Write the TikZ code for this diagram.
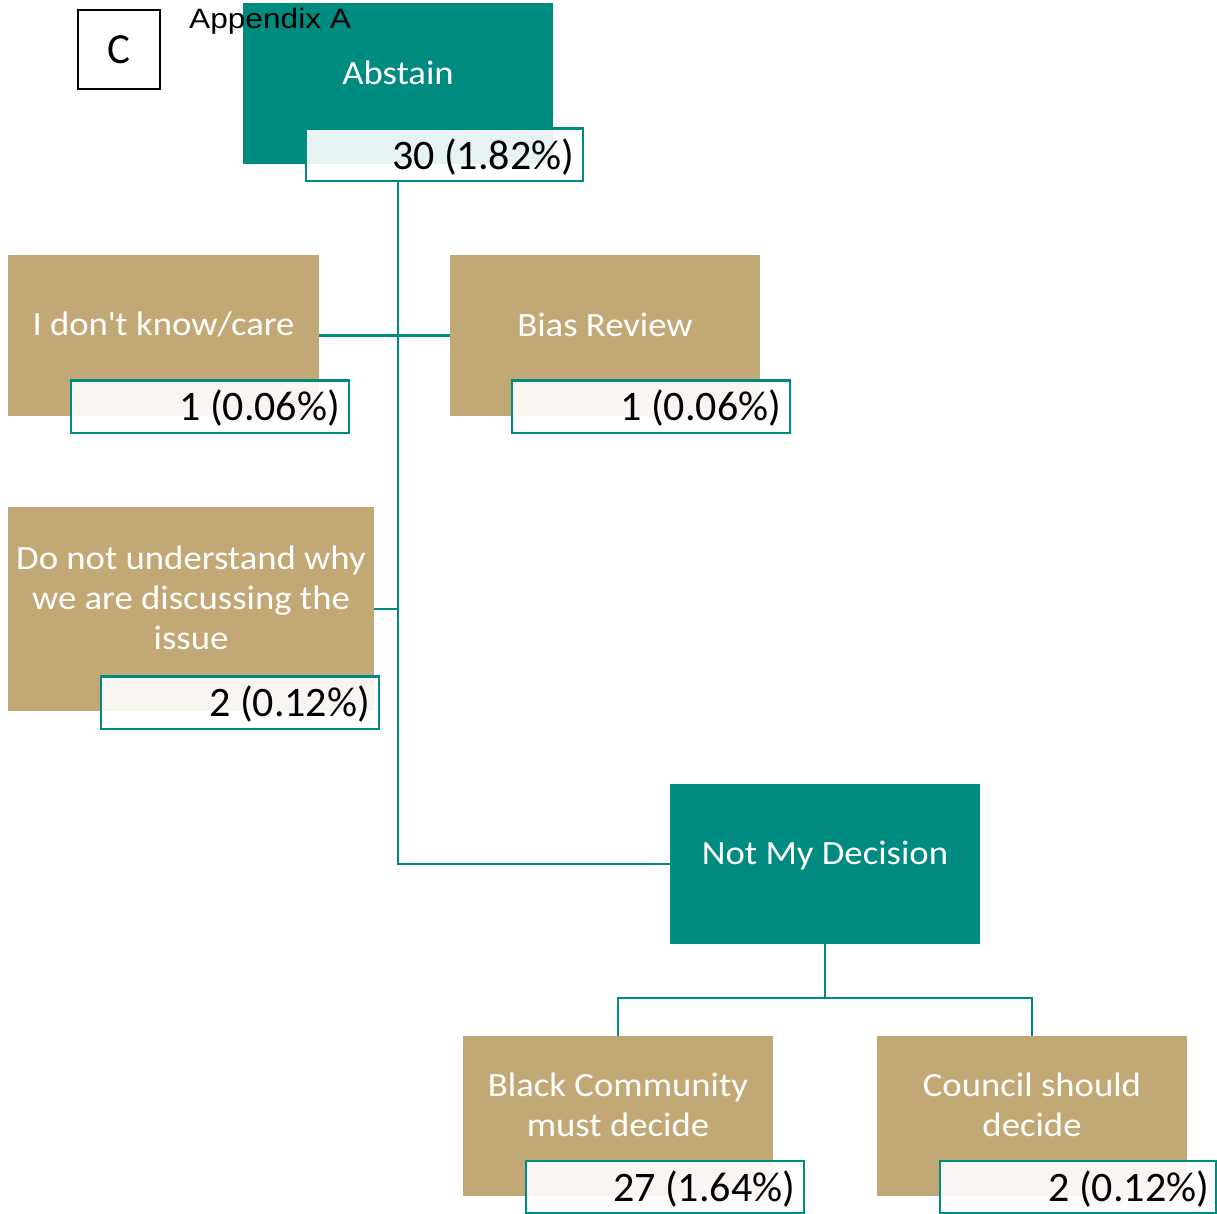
\documentclass[tikz,border=0pt]{standalone}
\usepackage{fontspec}
\setmainfont{Carlito}
\newfontfamily\labelfont{Carlito}[FakeStretch=1.08]
\newfontfamily\arialfont{Liberation Sans}[FakeStretch=1.13]
\definecolor{orgteal}{RGB}{0,139,128}
\definecolor{orgtan}{RGB}{194,168,116}
\tikzset{
  chartbox/.style={rectangle, inner sep=0pt, draw=none},
  tealbox/.style={chartbox, fill=orgteal},
  tanbox/.style={chartbox, fill=orgtan},
  boxlabel/.style={text=white, align=center, inner sep=0pt,
    font=\labelfont\fontsize{34}{40}\selectfont},
  valbox/.style={rectangle, draw=orgteal, line width=2.5pt, fill=white,
    fill opacity=0.9, minimum height=52.5pt, inner sep=0pt},
  valtext/.style={anchor=east, inner sep=0pt,
    font=\fontsize{42}{46}\selectfont},
  conn/.style={draw=orgteal, line width=2.5pt}
}
\begin{document}
\begin{tikzpicture}[x=1pt, y=-1pt]
\useasboundingbox[fill=white] (0,0) rectangle (1217,1214);

% boxes
\node[tealbox, minimum width=310pt, minimum height=161pt] (abstain) at (398,83.5) {};
\node[tanbox, minimum width=311pt, minimum height=161pt] (know) at (163.5,335.5) {};
\node[tanbox, minimum width=310pt, minimum height=161pt] (bias) at (605,335.5) {};
\node[tanbox, minimum width=366pt, minimum height=204pt] (dont) at (191,609) {};
\node[tealbox, minimum width=310pt, minimum height=160pt] (notmy) at (825,864) {};
\node[tanbox, minimum width=310pt, minimum height=160pt] (black) at (618,1116) {};
\node[tanbox, minimum width=310pt, minimum height=160pt] (council) at (1032,1116) {};

% connectors
\coordinate (split) at (825,998);
\draw[conn] (abstain.center |- 0,181) -- (abstain.center |- notmy.west) -- (notmy.west);
\draw[conn] (know.east) -- (bias.west);
\draw[conn] (dont.east) -- (dont.east -| abstain.center);
\draw[conn] (notmy.south) -- (split);
\draw[conn] (black.north) |- (split) -| (council.north);

% box titles
\node[boxlabel] (abstaint) at ([yshift=11pt]abstain.center) {Abstain};
\node[boxlabel] (knowt) at ([yshift=11pt]know.center) {I don\textquotesingle t know/care};
\node[boxlabel] (biast) at ([yshift=11pt]bias.center) {Bias Review};
\node[boxlabel] (dontt) at ([yshift=11pt]dont.center) {Do not understand why\\we are discussing the\\issue};
\node[boxlabel] (notmyt) at ([yshift=8pt]notmy.center) {Not My Decision};
\node[boxlabel] (blackt) at ([yshift=11pt]black.center) {Black Community\\must decide};
\node[boxlabel] (councilt) at ([yshift=11pt]council.center) {Council should\\decide};

% value boxes
\node[valbox, minimum width=277pt] (abstainv) at (444.5,155) {};
\node[valbox, minimum width=278pt] (knowv) at (210,406.5) {};
\node[valbox, minimum width=278pt] (biasv) at (651,406.5) {};
\node[valbox, minimum width=278pt] (dontv) at (240,702.5) {};
\node[valbox, minimum width=278pt] (blackv) at (665,1187) {};
\node[valbox, minimum width=276pt] (councilv) at (1078,1187) {};
\node[valtext] (abstainn) at ([xshift=-10pt,yshift=-2pt]abstainv.east) {30 (1.82\%)};
\node[valtext] (known) at ([xshift=-10pt,yshift=-2pt]knowv.east) {1 (0.06\%)};
\node[valtext] (biasn) at ([xshift=-10pt,yshift=-2pt]biasv.east) {1 (0.06\%)};
\node[valtext] (dontn) at ([xshift=-10pt,yshift=-2pt]dontv.east) {2 (0.12\%)};
\node[valtext] (blackn) at ([xshift=-10pt,yshift=-2pt]blackv.east) {27 (1.64\%)};
\node[valtext] (counciln) at ([xshift=-8pt,yshift=-2pt]councilv.east) {2 (0.12\%)};

% page marker and heading
\node[draw=black, line width=1.2pt, minimum width=82pt, minimum height=79pt,
  inner sep=0pt, font=\fontsize{43}{46}\selectfont] (cbox) at (119,49.5) {C};
\node[anchor=base west, inner sep=0pt, font=\arialfont\fontsize{28}{32}\selectfont]
  (appx) at (189,29) {Appendix A};
\end{tikzpicture}
\end{document}
